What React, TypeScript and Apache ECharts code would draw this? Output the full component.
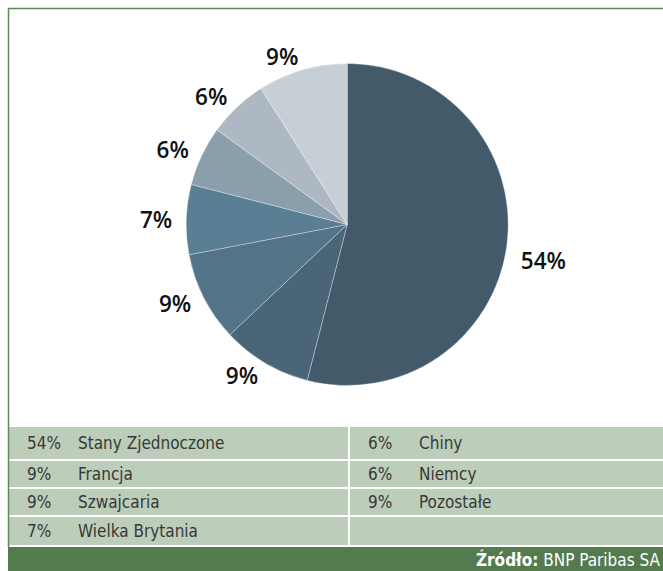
import React, { useEffect, useRef } from 'react';
import * as echarts from 'echarts';

const categories = ['Stany Zjednoczone', 'Francja', 'Szwajcaria', 'Wielka Brytania', 'Chiny', 'Niemcy', 'Pozostałe'];
const shares = [54, 9, 9, 7, 6, 6, 9];
const sliceColors = ['#435a6b', '#4a6578', '#537487', '#5a7e94', '#8b9eac', '#adb8c2', '#c6ced6'];
const sourceLabel = 'Źródło:';
const sourceName = 'BNP Paribas SA';

const W = 663;
const H = 571;
const tableFont = "'DejaVu Sans Condensed', 'Liberation Sans Narrow', 'Roboto Condensed', sans-serif";
const pieLabelFont = "'Open Sans', 'Noto Sans', sans-serif";

export default function App() {
  const ref = useRef<HTMLDivElement>(null);
  useEffect(() => {
    const chart = echarts.init(ref.current!, null, { renderer: 'svg', width: W, height: H });
    const rows = [
      { y: 427, h: 32 },
      { y: 461, h: 26 },
      { y: 489, h: 26 },
      { y: 517, h: 28 },
    ];
    const cols = [
      { x: 9, w: 339, pctX: 27, nameX: 78 },
      { x: 350, w: 313, pctX: 368, nameX: 419 },
    ];
    const graphics: any[] = [];
    graphics.push({ type: 'rect', shape: { x: 0, y: 0, width: W, height: H }, style: { fill: '#ffffff' }, silent: true, z: -10 });
    rows.forEach((r, ri) =>
      cols.forEach((c, ci) => {
        graphics.push({ type: 'rect', shape: { x: c.x, y: r.y, width: c.w, height: r.h }, style: { fill: '#bccdb9' }, silent: true });
        const idx = ci * 4 + ri;
        if (idx < categories.length) {
          const cy = r.y + r.h / 2;
          graphics.push({
            type: 'text', x: c.pctX, y: cy, silent: true,
            style: { text: `${shares[idx]}%`, fontFamily: tableFont, fontSize: 17, fill: '#383838', align: 'left', verticalAlign: 'middle' },
          });
          graphics.push({
            type: 'text', x: c.nameX, y: cy, silent: true,
            style: { text: categories[idx], fontFamily: tableFont, fontSize: 17, fill: '#383838', align: 'left', verticalAlign: 'middle' },
          });
        }
      })
    );
    graphics.push({ type: 'rect', shape: { x: 8, y: 547, width: W - 8, height: H - 547 }, style: { fill: '#537b4d' }, silent: true });
    graphics.push({
      type: 'text', x: 660, y: 559.5, silent: true,
      style: {
        text: `{b|${sourceLabel}} {r|${sourceName}}`,
        align: 'right', verticalAlign: 'middle',
        rich: {
          b: { fontFamily: tableFont, fontSize: 17, fontWeight: 'bold', fill: '#ffffff' },
          r: { fontFamily: tableFont, fontSize: 17, fill: '#ffffff' },
        },
        fontFamily: tableFont, fontSize: 17, fill: '#ffffff',
      },
    });
    graphics.push({ type: 'line', shape: { x1: 8, y1: 8.5, x2: W, y2: 8.5 }, style: { stroke: '#5b8a56', lineWidth: 1.5 }, silent: true });
    graphics.push({ type: 'line', shape: { x1: 8.5, y1: 8, x2: 8.5, y2: 547 }, style: { stroke: '#5b8a56', lineWidth: 1.5 }, silent: true });

    const labelText = { fontFamily: pieLabelFont, fontWeight: 600, fontSize: 22.5, color: '#111111' };

    chart.setOption({
      animation: false,
      backgroundColor: '#ffffff',
      graphic: graphics,
      series: [
        {
          type: 'pie',
          center: [347.2, 224.5],
          radius: 161,
          startAngle: 90,
          clockwise: true,
          silent: true,
          avoidLabelOverlap: false,
          data: categories.map((n, i) => ({
            name: n,
            value: shares[i],
            itemStyle: { color: sliceColors[i] },
            label: i === 0 ? { formatter: '{low|{c}%}' } : {},
          })),
          itemStyle: { borderColor: 'rgba(255,255,255,0.45)', borderWidth: 0.7 },
          label: {
            show: true,
            position: 'outside',
            formatter: '{c}%',
            ...labelText,
            distanceToLabelLine: 0,
            rich: { low: { ...labelText, padding: [28, 0, 0, 0] } },
          },
          labelLine: { show: false, length: 14, length2: 0 },
          emphasis: { disabled: true },
        },
      ],
    });
    return () => chart.dispose();
  }, []);
  return <div ref={ref} style={{ position: 'fixed', left: 0, top: 0, width: W, height: H }} />;
}
